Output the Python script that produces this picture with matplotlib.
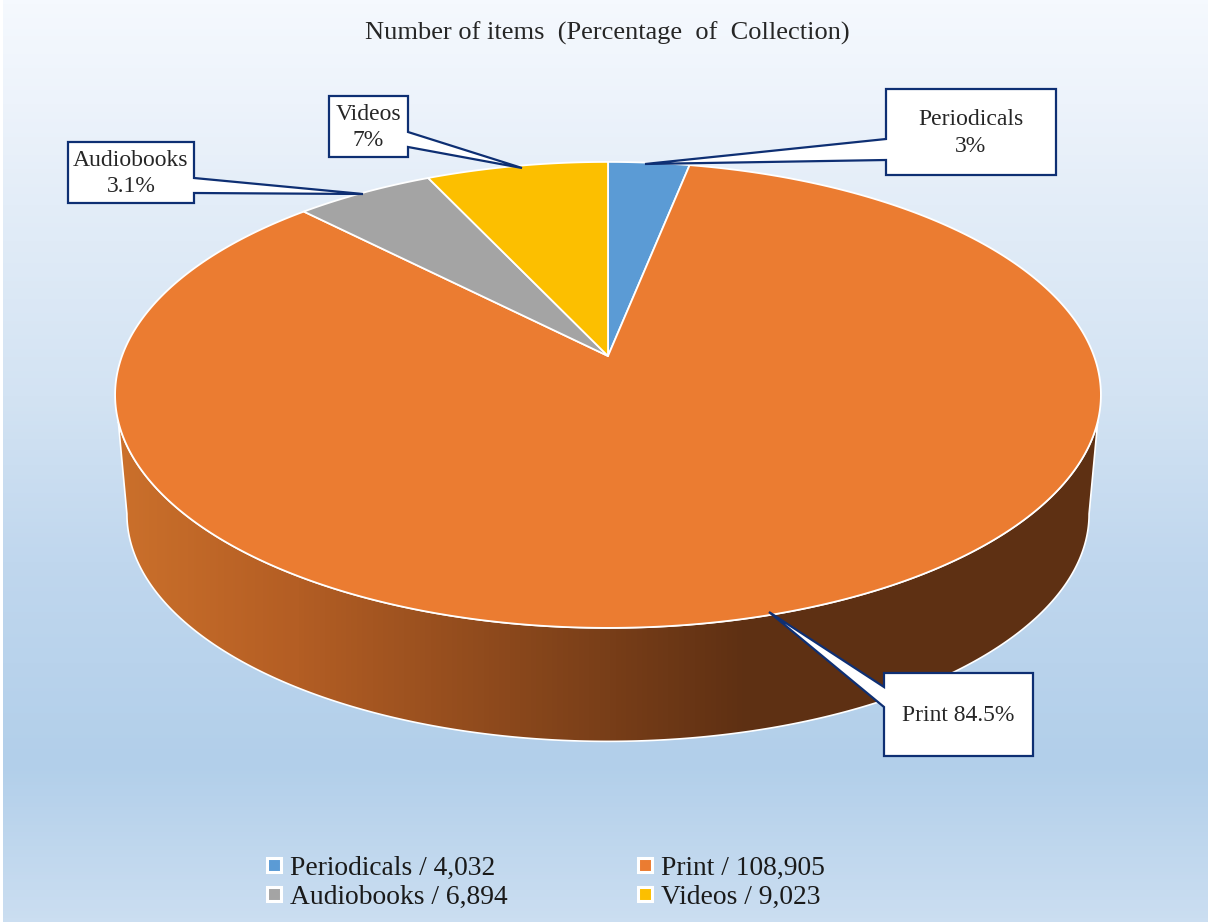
import numpy as np
import matplotlib
matplotlib.use("Agg")
import matplotlib.pyplot as plt
from matplotlib.colors import LinearSegmentedColormap
from matplotlib.lines import Line2D
from matplotlib.patches import Polygon

categories = ["Periodicals", "Print", "Audiobooks", "Videos"]
counts = [4032, 108905, 6894, 9023]
colors = ["#5B9BD5", "#EB7C31", "#A4A4A4", "#FCBF00"]
callout_texts = ["Periodicals\n3%", "Print 84.5%", "Audiobooks\n3.1%", "Videos\n7%"]
title = "Number of items  (Percentage  of  Collection)"

plt.rcParams["font.family"] = ["Liberation Serif", "DejaVu Serif"]

# perspective of the pie, in pixels
CX, CY = 608, 356
A, B, K = 486, 226.5, 0.167


def project(theta, r=1.0, cy=CY, m=1.0):
    u = r * np.cos(theta)
    v = r * np.sin(theta)
    s = 1 / (1 + K * v)
    return np.column_stack([CX + m * A * u * s, cy - m * B * v * s])


fig = plt.figure(figsize=(12.11, 9.22), dpi=100)
ax = fig.add_axes([0, 0, 1, 1])

# background, with a thin white margin round it
bg = LinearSegmentedColormap.from_list("bg", [
    (0.0, "#F5F9FE"), (0.11, "#EDF3FB"), (0.22, "#E3EDF8"), (0.43, "#D3E3F3"),
    (0.61, "#C0D7EE"), (0.83, "#B2CFEA"), (1.0, "#CBDEF1")])
ax.imshow(np.linspace(0, 1, 256).reshape(-1, 1), cmap=bg, aspect="auto",
          extent=(3, 1208, 922, 1), zorder=0)

# side wall
wall = LinearSegmentedColormap.from_list("wall", ["#CB702B", "#B45E24", "#5E3013", "#5E3013"])
top_arc = project(np.radians(np.linspace(196, 344, 300)))
low_arc = project(np.radians(np.linspace(350.4, 189.6, 300)), cy=476, m=0.976)
wall_poly = Polygon(np.vstack([top_arc, low_arc]), closed=True, fc="none",
                    ec="white", lw=1.2, zorder=2)
ax.add_patch(wall_poly)
grad = np.interp(np.arange(1211), [0, 118, 290, 750, 1211], [0, 0, 0.33, 0.67, 1]).reshape(1, -1)
im = ax.imshow(grad, cmap=wall, vmin=0, vmax=1, aspect="auto",
               extent=(0, 1211, 922, 0), zorder=1)
im.set_clip_path(wall_poly)

# top slices, clockwise from twelve o'clock
fractions = np.array(counts) / np.sum(counts)
edges = np.pi / 2 - 2 * np.pi * np.concatenate([[0], np.cumsum(fractions)])
for i, c in enumerate(colors):
    arc = project(np.linspace(edges[i], edges[i + 1], 400))
    ax.add_patch(Polygon(np.vstack([[CX, CY], arc]), closed=True, fc=c, ec="white",
                         lw=1.3, joinstyle="round", zorder=3))

# callouts: box (x0, y0, x1, y1), pointer base and tip
boxes = [(886, 89, 1056, 175), (884, 673, 1033, 756), (68, 142, 194, 203), (329, 96, 408, 157)]
bases = [((886, 139), (886, 160)), ((884, 687), (884, 707)), ((194, 178), (194, 193)), ((408, 132), (408, 147))]
tips = [(645, 164), (769, 612), (363, 194), (522, 168)]
for box, base, tip, txt in zip(boxes, bases, tips, callout_texts):
    x0, y0, x1, y1 = box
    if base[0][0] == x0:  # pointer leaves the left side
        pts = [(x0, y0), (x1, y0), (x1, y1), (x0, y1), base[1], tip, base[0]]
    else:
        pts = [(x0, y0), (x1, y0), base[0], tip, base[1], (x1, y1), (x0, y1)]
    ax.add_patch(Polygon(pts, closed=True, fc="white", ec="#0E2F73", lw=1.6,
                         joinstyle="miter", zorder=4))
    ax.text((x0 + x1) / 2, (y0 + y1) / 2 + 1, txt, ha="center", va="center", fontsize=17,
            color="#262626", linespacing=1.35, zorder=5)

ax.text(607, 33, title, ha="center", va="center", fontsize=19, color="#262626")

# legend fills column by column
order = [0, 2, 1, 3]
handles = [Line2D([], [], ls="none", marker="s", ms=10.5, mfc=colors[i], mec="white", mew=2.2) for i in order]
labels = [f"{categories[i]} / {counts[i]:,}" for i in order]
leg = ax.legend(handles, labels, ncol=2, frameon=False, fontsize=19.8, labelcolor="#1a1a1a",
                loc="center left", bbox_to_anchor=(264 / 1211, 1 - 882.5 / 922),
                handlelength=0.7, handletextpad=0.25, columnspacing=4.64, labelspacing=0.14,
                borderpad=0, borderaxespad=0)

ax.set_xlim(0, 1211)
ax.set_ylim(922, 0)
ax.axis("off")
fig.savefig("out.png", dpi=100)
